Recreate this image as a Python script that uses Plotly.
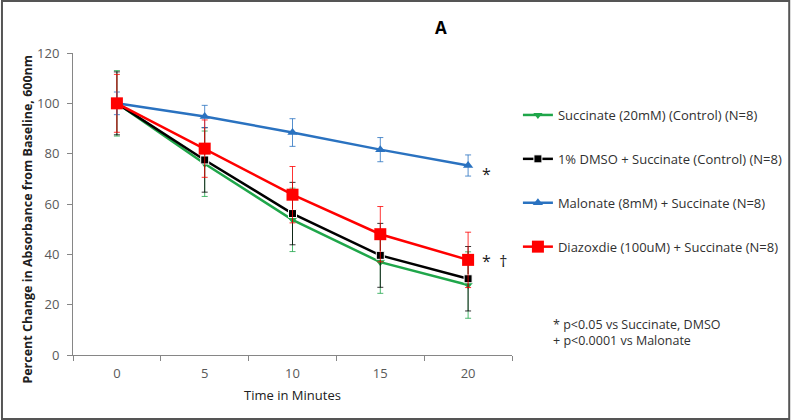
import plotly.graph_objects as go

minutes = ["0", "5", "10", "15", "20"]

succ = [100, 76.0, 53.7, 36.9, 27.8]
succ_err = [13.0, 13.0, 12.6, 12.4, 13.2]
dmso = [100, 77.5, 56.2, 39.6, 30.3]
dmso_err = [12.5, 12.8, 12.4, 12.7, 12.8]
malo = [100, 94.8, 88.4, 81.6, 75.3]
malo_err = [4.5, 4.4, 5.5, 4.8, 4.2]
diaz = [100, 82.0, 63.7, 48.0, 37.8]
diaz_err = [11.5, 11.4, 11.2, 11.0, 11.0]

names = ["Succinate (20mM) (Control) (N=8)",
         "1% DMSO + Succinate (Control) (N=8)",
         "Malonate (8mM) + Succinate (N=8)",
         "Diazoxdie (100uM) + Succinate (N=8)"]

FONT = "Open Sans, Liberation Sans, sans-serif"

fig = go.Figure()

series = [
    (succ, succ_err, "#1fa64a", "triangle-down", 8, "#1fa64a", 0),
    (dmso, dmso_err, "#000000", "square", 8, "#ffffff", 1),
    (malo, malo_err, "#2a72c0", "triangle-up", 9, "#2a72c0", 0),
    (diaz, diaz_err, "#ff0000", "square", 12, "#ff0000", 0),
]
for i, (vals, errs, col, sym, sz, lc, lw) in enumerate(series):
    fig.add_trace(go.Scatter(
        x=minutes, y=vals, name=names[i], legendgroup=f"g{i}",
        mode="lines+markers",
        line=dict(color=col, width=2.5),
        marker=dict(symbol=sym, size=sz, color=col, line=dict(color=lc, width=lw)),
        error_y=dict(type="data", array=errs, visible=True, color=col,
                     thickness=0.8, width=3),
    ))

fig.update_layout(
    width=800, height=420, autosize=False,
    margin=dict(l=73, r=282, t=53, b=65),
    paper_bgcolor="white", plot_bgcolor="white",
    font=dict(family=FONT, size=12, color="#404040"),
    showlegend=True,
    legend=dict(x=(524 - 73) / 445, y=(355 - 100) / 302, xanchor="left", yanchor="top",
                font=dict(family=FONT, size=13, color="#303030"),
                tracegroupgap=24, itemwidth=30, bgcolor="rgba(0,0,0,0)"),
    xaxis=dict(type="category", range=[-0.5, 4.5], showline=True,
               linecolor="#868686", linewidth=1, ticks="outside",
               tickson="boundaries", ticklen=5, tickcolor="#868686",
               showgrid=False, zeroline=False, ticklabelstandoff=6,
               tickfont=dict(size=13, color="#595959"),
               title=dict(text="Time in Minutes",
                          font=dict(size=13, color="#202020"), standoff=10)),
    yaxis=dict(range=[0, 120], dtick=20, showline=True,
               linecolor="#868686", linewidth=1, ticks="outside",
               ticklen=5, tickcolor="#868686", showgrid=False, zeroline=False,
               ticklabelstandoff=5,
               tickfont=dict(size=13, color="#595959")),
)

# figure frame
fig.add_shape(type="rect", xref="paper", yref="paper",
              x0=(1 - 73) / 445, x1=(799 - 73) / 445,
              y0=(355 - 419) / 302, y1=(355 - 1) / 302,
              line=dict(color="#555555", width=2), fillcolor="rgba(0,0,0,0)",
              layer="below")

fig.add_annotation(text="<b>Percent Change in Absorbance from Baseline, 600nm</b>",
                   xref="paper", yref="paper", textangle=-90,
                   x=(27 - 73) / 445, y=(355 - 219) / 302,
                   xanchor="center", yanchor="middle", showarrow=False,
                   font=dict(size=12.5, color="#202020"))
fig.add_annotation(text="<b>A</b>", xref="paper", yref="paper",
                   x=(446 - 73) / 445, y=(355 - 28) / 302, showarrow=False,
                   xanchor="center", yanchor="middle",
                   font=dict(size=17, color="#000000"))
fig.add_annotation(text="*", xref="paper", yref="paper",
                   x=(486 - 73) / 445, y=(355 - 174) / 302,
                   xanchor="left", yanchor="middle", showarrow=False,
                   font=dict(size=16, color="#202020"))
fig.add_annotation(text="*  †", xref="paper", yref="paper",
                   x=(486 - 73) / 445, y=(355 - 261) / 302,
                   xanchor="left", yanchor="middle", showarrow=False,
                   font=dict(size=16, color="#202020"))
fig.add_annotation(text="* p<0.05 vs Succinate, DMSO<br>+ p<0.0001 vs Malonate",
                   xref="paper", yref="paper", x=(558 - 73) / 445,
                   y=(355 - 332) / 302, xanchor="left", yanchor="middle",
                   align="left", showarrow=False,
                   font=dict(size=12.5, color="#303030"))

post = (
    "document.documentElement.style.overflow='hidden';"
    "document.body.style.overflow='hidden';"
    "document.body.style.margin='0';"
    "var gd=document.getElementById('{plot_id}');"
    "gd.style.position='fixed';gd.style.left='0px';gd.style.top='0px';"
    "gd.style.width='800px';gd.style.height='420px';"
    "Plotly.relayout(gd,{width:800,height:420,autosize:false});"
)

fig.write_html("out.html",
               config={"responsive": False, "displayModeBar": False},
               default_width="800px", default_height="420px",
               post_script=post)
